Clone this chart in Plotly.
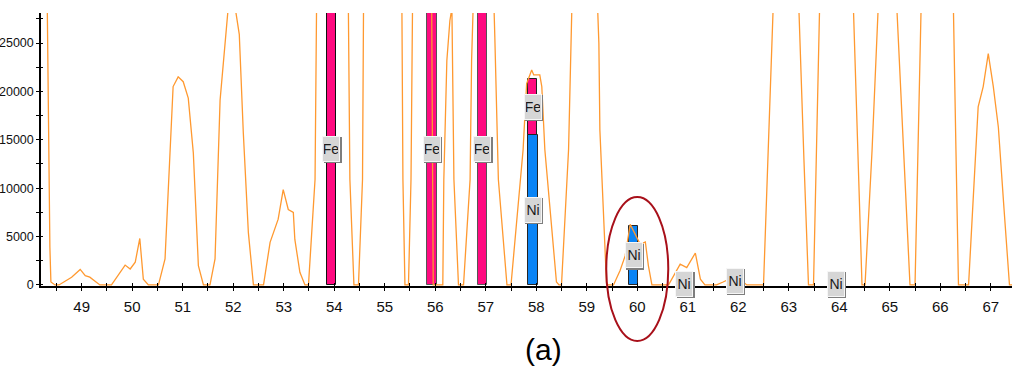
import plotly.graph_objects as go

# Measured profile: m/z sampling points and their counts
profile_mz = [
    48.19, 48.31, 48.37, 48.39, 48.47, 48.55, 48.64, 48.80, 48.97, 49.07, 49.16, 49.36,
    49.59, 49.86, 49.96, 50.06, 50.15, 50.22, 50.32,
    50.52, 50.65, 50.75, 50.81, 50.91, 51.01, 51.11, 51.21, 51.31, 51.41,
    51.54, 51.64, 51.74, 51.84, 51.90, 51.97, 52.04, 52.12, 52.20, 52.30, 52.40,
    52.60, 52.73, 52.89, 52.99, 53.09, 53.19, 53.22, 53.32, 53.42,
    53.49, 53.62, 53.65, 53.80, 54.00, 54.20, 54.28, 54.31, 54.39,
    54.48, 54.56, 54.58, 54.80, 55.00, 55.20, 55.34, 55.36, 55.40,
    55.47, 55.52, 55.55, 55.70, 55.90, 55.93, 55.96,
    56.15, 56.17, 56.23, 56.26, 56.29, 56.33, 56.355, 56.37, 56.46,
    56.56, 56.69, 56.72, 56.75, 56.90, 57.05, 57.17, 57.18, 57.25, 57.42,
    57.50, 57.60, 57.74, 57.78, 57.81, 57.91, 57.95, 58.07, 58.11, 58.17, 58.30, 58.40, 58.45,
    58.50, 58.64, 58.66, 58.68, 58.80, 59.00, 59.22, 59.24, 59.26, 59.39, 59.42,
    59.53, 59.66, 59.76, 59.86, 59.92, 60.06, 60.16, 60.22, 60.29,
    60.62, 60.85, 60.98, 61.15, 61.25, 61.34,
    61.57, 61.70, 61.84, 62.05, 62.17,
    62.50, 62.60, 62.68, 62.90, 63.10, 63.20, 63.30, 63.39,
    63.49, 63.56, 63.61, 63.80, 64.10, 64.28, 64.37, 64.45,
    64.51, 64.65, 64.77, 64.95, 65.14, 65.27, 65.40,
    65.50, 65.57, 65.62, 65.90, 66.26, 66.31, 66.36,
    66.56, 66.66, 66.75, 66.85, 66.95, 67.05, 67.15, 67.26, 67.37, 67.42,
]
profile_counts = [
    90000, 28600, 3900, 300, 0, 0, 300, 800, 1600, 950, 800, 0,
    0, 2050, 1650, 2350, 4800, 600, 0,
    0, 2700, 14700, 20500, 21500, 21000, 19300, 13650, 2000, 0,
    0, 2700, 19100, 25600, 28600, 30500, 28600, 25900, 15700, 5400, 0,
    0, 4400, 6800, 9850, 7800, 7500, 4700, 1300, 0,
    0, 10900, 28600, 70000, 110000, 60000, 28600, 10900, 0,
    0, 10900, 28600, 60000, 80000, 50000, 28600, 10900, 0,
    0, 10900, 28600, 300000, 400000, 28600, 0,
    0, 10900, 23200, 25200, 27300, 28600, 20000, 10900, 0,
    0, 10900, 23200, 28600, 60000, 50000, 28600, 25600, 10900, 0,
    0, 6000, 14000, 18000, 20800, 22200, 21700, 21700, 20500, 14000, 6000, 300, 0,
    0, 14000, 21100, 28600, 50000, 60000, 28600, 25000, 16000, 300, 0,
    0, 1500, 3000, 6260, 5600, 4200, 4450, 2000, 0,
    0, 2150, 1800, 3300, 600, 0,
    0, 300, 650, 500, 0,
    0, 15000, 28600, 60000, 50000, 28600, 13000, 0,
    0, 15000, 28600, 60000, 60000, 28600, 14000, 0,
    0, 14000, 28600, 60000, 28600, 14000, 0,
    0, 15000, 28600, 60000, 28600, 14000, 0,
    0, 9000, 18400, 20500, 23900, 20500, 16300, 8000, 0, 0,
]

# Isotope sticks (exact masses) and their fitted intensities
fe_mass = [53.940, 55.935, 56.935, 57.933]
fe_counts = [120000, 1900000, 43000, 5800]
ni_mass = [57.935, 59.931, 60.931, 61.928, 63.928]
ni_counts = [15500, 6100, 250, 850, 230]

x_ticks = list(range(49, 68))
y_ticks = [0, 5000, 10000, 15000, 20000, 25000]

X_RANGE = [48.194, 67.42]
Y_RANGE = [-110, 28100]

FE_COLOR = "#FF0A80"
NI_COLOR = "#0A84F5"
LINE_COLOR = "#FF9930"
NARROW = "Liberation Sans Narrow, Arial Narrow, Liberation Sans, sans-serif"

# Fe sticks sit on top of any Ni stick at the same nominal mass
ni_by_nominal = {round(m): c for m, c in zip(ni_mass, ni_counts)}
fe_base = [ni_by_nominal.get(round(m), 0) for m in fe_mass]

fig = go.Figure()

fig.add_trace(go.Bar(
    x=ni_mass, y=ni_counts, width=0.18,
    marker=dict(color=NI_COLOR, line=dict(color="#262626", width=1)),
    showlegend=False,
))
fig.add_trace(go.Bar(
    x=fe_mass, y=fe_counts, base=fe_base, width=0.18,
    marker=dict(color=FE_COLOR, line=dict(color=["#111111", "#555555", "#555555", "#222222"], width=1)),
    showlegend=False,
))
fig.add_trace(go.Scatter(
    x=profile_mz, y=profile_counts, mode="lines",
    line=dict(color=LINE_COLOR, width=1.3),
    showlegend=False,
))
# empty trace carrying the overlaid axes that draw the inward tick halves
fig.add_trace(go.Scatter(x=[], y=[], xaxis="x2", yaxis="y2", showlegend=False))


def visible_mid(base, value):
    lo = max(base, 0)
    hi = min(base + value, Y_RANGE[1])
    return (lo + hi) / 2


labels = [("Fe", m, visible_mid(b, c)) for m, b, c in zip(fe_mass, fe_base, fe_counts)]
labels += [("Ni", m, visible_mid(0, c)) for m, c in zip(ni_mass, ni_counts)]

annotations = []
for text, m, yv in labels:
    # drop shadow of the tag
    annotations.append(dict(
        x=m, y=yv, xref="x", yref="y", text=text, showarrow=False,
        xshift=1.5, yshift=-1.5, width=14, height=22,
        font=dict(family=NARROW, size=14, color="rgba(0,0,0,0)"),
        bgcolor="#7E7E7E", bordercolor="#7E7E7E", borderwidth=1, borderpad=1,
    ))
    annotations.append(dict(
        x=m, y=yv, xref="x", yref="y", text=text, showarrow=False,
        width=14, height=22,
        font=dict(family=NARROW, size=14, color="#1A1A1A"),
        bgcolor="#D6D6D6", bordercolor="#F6F6F6", borderwidth=1, borderpad=1,
    ))

annotations.append(dict(
    x=0.518, y=-0.234, xref="paper", yref="paper", text="(a)", showarrow=False,
    xanchor="center", yanchor="middle",
    font=dict(family="Liberation Sans, Arial, sans-serif", size=30, color="#000000"),
))


def fx(v):
    return (v - X_RANGE[0]) / (X_RANGE[1] - X_RANGE[0])


def fy(v):
    return (v - Y_RANGE[0]) / (Y_RANGE[1] - Y_RANGE[0])


# ellipse highlighting the m/z 60 region
ring_center = round(ni_mass[1])
ring_rx, ring_cy, ring_ry = 0.614, 1640, 7440
shapes = [dict(
    type="circle", xref="paper", yref="paper",
    x0=fx(ring_center - ring_rx), x1=fx(ring_center + ring_rx),
    y0=fy(ring_cy - ring_ry), y1=fy(ring_cy + ring_ry),
    line=dict(color="#A8101A", width=2),
)]

fig.update_layout(
    width=1012, height=374,
    margin=dict(l=41, r=0, t=13, b=88, autoexpand=False),
    paper_bgcolor="white", plot_bgcolor="white",
    barmode="overlay", bargap=0,
    annotations=annotations, shapes=shapes,
    xaxis=dict(
        range=X_RANGE, showgrid=False, zeroline=False, automargin=False,
        showline=True, linecolor="#000000", linewidth=1.5,
        tickmode="array", tickvals=x_ticks, ticktext=[str(v) for v in x_ticks],
        ticks="outside", ticklen=3, tickwidth=1, tickcolor="#000000",
        minor=dict(tick0=48.5, dtick=0.5, ticks="outside", ticklen=3, tickcolor="#000000"),
        tickfont=dict(family=NARROW, size=15, color="#111111"),
        ticklabelstandoff=3,
        layer="below traces",
    ),
    yaxis=dict(
        range=Y_RANGE, showgrid=False, zeroline=False, automargin=False,
        showline=True, linecolor="#000000", linewidth=1.5,
        tickmode="array", tickvals=y_ticks, ticktext=[str(v) for v in y_ticks],
        ticks="outside", ticklen=3, tickwidth=1, tickcolor="#000000",
        minor=dict(tick0=0, dtick=2500, ticks="outside", ticklen=3, tickcolor="#000000"),
        tickfont=dict(family=NARROW, size=12.5, color="#111111"),
        ticklabelstandoff=0,
        layer="below traces",
    ),
    xaxis2=dict(
        overlaying="x", anchor="y", range=X_RANGE, showgrid=False, zeroline=False,
        showline=False, showticklabels=False, automargin=False,
        tick0=48.5, dtick=0.5, ticks="inside", ticklen=3, tickwidth=1, tickcolor="#000000",
    ),
    yaxis2=dict(
        overlaying="y", anchor="x", side="left", range=Y_RANGE, showgrid=False, zeroline=False,
        showline=False, showticklabels=False, automargin=False,
        tick0=0, dtick=2500, ticks="inside", ticklen=2, tickwidth=1, tickcolor="#000000",
    ),
)

fig.write_html("out.html")
